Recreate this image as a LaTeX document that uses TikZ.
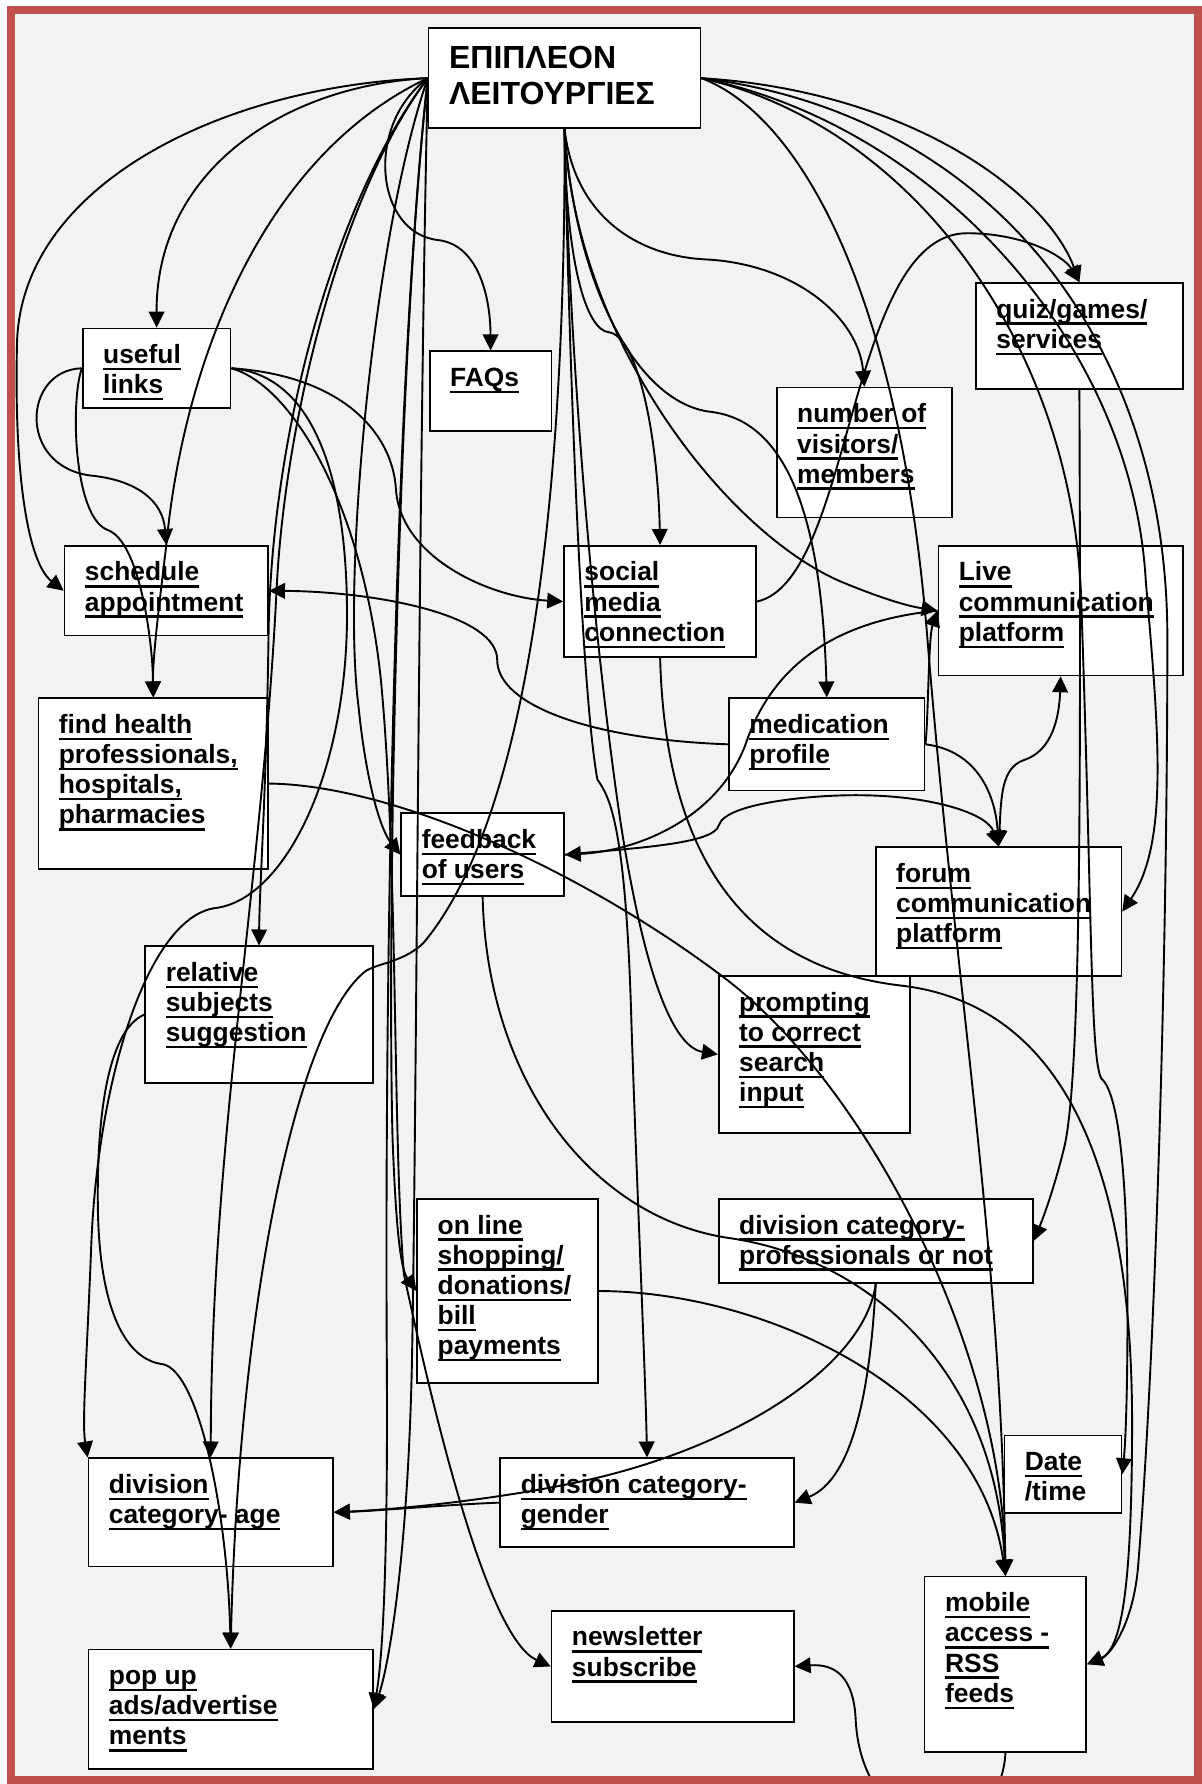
\documentclass[tikz,border=0pt]{standalone}
\usepackage{fontspec}
\setmainfont{Liberation Sans}
\usetikzlibrary{arrows.meta}
\definecolor{framered}{HTML}{C0504D}
\definecolor{pagegray}{HTML}{F2F2F2}
\newlength{\un}\setlength{\un}{0.02cm}
\newlength{\ixs}\setlength{\ixs}{0.36cm}
\newlength{\iys}\setlength{\iys}{7.6pt}
\newcommand{\uln}[1]{\leavevmode\setbox0\hbox{#1}\rlap{\rule[-3.3pt]{\wd0}{1.2pt}}\box0}
\newcommand{\boxtext}[3]{\parbox[t][\dimexpr#2\un-2\iys\relax][t]{\dimexpr#1\un-2\ixs\relax}{\raggedright\rule{0pt}{10pt}#3}}
\tikzset{
  cell/.style={draw, line width=0.8pt, fill=white, anchor=north west, inner xsep=\ixs, inner ysep=\iys,
    font=\fontsize{13.2}{15.1}\selectfont\bfseries},
  >={Triangle[length=8pt,width=7.8pt]}
}
\begin{document}
\begin{tikzpicture}[line width=0.95pt]
        \def\x{0.02}
        \def\y{-0.02}
        \fill[white] (0,0) rectangle (1056*\x, 1568*\y);
        \useasboundingbox (0,0) rectangle (1056*\x, 1568*\y);
        \fill[pagegray] (9.75*\x, 8.5*\y) rectangle (1053*\x, 1564.5*\y);
        \node[cell, font=\fontsize{16}{17.9}\selectfont\bfseries] (A0_0) at (376*\x, 24*\y) {\boxtext{239}{88}{\rule{0pt}{12.8pt}ΕΠΙΠΛΕΟΝ\\ΛΕΙΤΟΥΡΓΙΕΣ}};
        \node[cell] (A1_0) at (72*\x, 288*\y) {\boxtext{130}{70}{\uln{useful}\\\uln{links}}};
        \node[cell] (A1_1) at (377*\x, 308*\y) {\boxtext{107}{70}{\uln{FAQs}}};
        \node[cell] (A1_2) at (682*\x, 340*\y) {\boxtext{154}{114}{\uln{number of}\\\uln{visitors/}\\\uln{members}}};
        \node[cell] (A1_3) at (857*\x, 248*\y) {\boxtext{182}{93}{\uln{quiz/games/}\\\uln{services}}};
        \node[cell] (A2_0) at (56*\x, 479*\y) {\boxtext{179}{79}{\uln{schedule}\\\uln{appointment}}};
        \node[cell] (A2_1) at (495*\x, 479*\y) {\boxtext{169}{98}{\uln{social}\\\uln{media}\\\uln{connection}}};
        \node[cell] (A2_2) at (824*\x, 479*\y) {\boxtext{215}{114}{\uln{Live}\\\uln{communication}\\\uln{platform}}};
        \node[cell] (A3_0) at (33*\x, 613*\y) {\boxtext{202}{150}{\uln{find health}\\\uln{professionals,}\\\uln{hospitals,}\\\uln{pharmacies}}};
        \node[cell] (A3_1) at (640*\x, 613*\y) {\boxtext{172}{81}{\uln{medication}\\\uln{profile}}};
        \node[cell] (A4_0) at (352*\x, 714*\y) {\boxtext{143}{73}{\uln{feedback}\\\uln{of users}}};
        \node[cell] (A4_1) at (769*\x, 744*\y) {\boxtext{216}{113}{\uln{forum}\\\uln{communication}\\\uln{platform}}};
        \node[cell] (A5_0) at (127*\x, 831*\y) {\boxtext{200}{120}{\uln{relative}\\\uln{subjects}\\\uln{suggestion}}};
        \node[cell] (A5_1) at (631*\x, 857*\y) {\boxtext{168}{138}{\uln{prompting}\\\uln{to correct}\\\uln{search}\\\uln{input}}};
        \node[cell] (A6_0) at (366*\x, 1053*\y) {\boxtext{159}{162}{\uln{on line}\\\uln{shopping/}\\\uln{donations/}\\\uln{bill}\\\uln{payments}}};
        \node[cell] (A6_1) at (631*\x, 1053*\y) {\boxtext{276}{74}{\uln{division category-}\\\uln{professionals or not}}};
        \node[cell] (A7_0) at (77*\x, 1281*\y) {\boxtext{215}{95}{\uln{division}\\\uln{category- age}}};
        \node[cell] (A7_1) at (439*\x, 1281*\y) {\boxtext{258}{78}{\uln{division category-}\\\uln{gender}}};
        \node[cell] (A7_2) at (882*\x, 1261*\y) {\boxtext{103}{68}{\uln{Date}\\/time}};
        \node[cell] (A8_0) at (77*\x, 1449*\y) {\boxtext{250}{105}{\uln{pop up}\\\uln{ads/advertise}\\\uln{ments}}};
        \node[cell] (A8_1) at (484*\x, 1415*\y) {\boxtext{213}{98}{\uln{newsletter}\\\uln{subscribe}}};
        \node[cell] (A8_2) at (812*\x, 1385*\y) {\boxtext{142}{154}{\uln{mobile}\\\uln{access -}\\\uln{RSS}\\\uln{feeds}}};
        \draw[->] (A0_0.west) .. controls (200*\x, 75*\y) and (20*\x, 160*\y) .. (15*\x, 300*\y) .. controls (12*\x, 420*\y) and (25*\x, 495*\y) .. (A2_0.west);
        \draw[->] (A0_0.west) .. controls (250*\x, 75*\y) and (137*\x, 150*\y) .. (A1_0.north);
        \draw[->] (A0_0.west) .. controls (225*\x, 140*\y) and (160*\x, 330*\y) .. (A2_0.north) .. controls (140*\x, 530*\y) and (134*\x, 580*\y) .. (A3_0.north);
        \draw[->] (A0_0.west) .. controls (320*\x, 110*\y) and (330*\x, 205*\y) .. (385*\x, 211*\y) .. controls (420*\x, 215*\y) and (431*\x, 260*\y) .. (A1_1.north);
        \draw[->] (A0_0.west) .. controls (330*\x, 200*\y) and (300*\x, 500*\y) .. (315*\x, 620*\y) .. controls (322*\x, 690*\y) and (335*\x, 730*\y) .. (A4_0.west);
        \draw[->] (A0_0.west) .. controls (295*\x, 175*\y) and (238*\x, 380*\y) .. (236*\x, 560*\y) .. controls (234*\x, 700*\y) and (228*\x, 780*\y) .. (A5_0.north);
        \draw[->] (A0_0.west) .. controls (300*\x, 170*\y) and (250*\x, 370*\y) .. (243*\x, 520*\y) .. controls (230*\x, 780*\y) and (186*\x, 1000*\y) .. (A7_0.north);
        \draw[->] (A0_0.west) .. controls (350*\x, 300*\y) and (340*\x, 800*\y) .. (345*\x, 1000*\y) .. controls (348*\x, 1080*\y) and (352*\x, 1115*\y) .. (A6_0.west);
        \draw[->] (A0_0.west) .. controls (345*\x, 350*\y) and (338*\x, 900*\y) .. (340*\x, 1200*\y) .. controls (341*\x, 1380*\y) and (336*\x, 1460*\y) .. (A8_0.east);
        \draw[->] (A0_0.west) .. controls (368*\x, 400*\y) and (366*\x, 1000*\y) .. (362*\x, 1200*\y) .. controls (358*\x, 1380*\y) and (340*\x, 1470*\y) .. (A8_0.east);
        \draw[->] (A0_0.south) .. controls (497*\x, 230*\y) and (515*\x, 290*\y) .. (535*\x, 292*\y) .. controls (560*\x, 295*\y) and (578*\x, 380*\y) .. (A2_1.north);
        \draw[->] (A0_0.south) .. controls (505*\x, 190*\y) and (560*\x, 225*\y) .. (620*\x, 228*\y) .. controls (700*\x, 232*\y) and (755*\x, 280*\y) .. (A1_2.north);
        \draw[->] (A0_0.south) .. controls (505*\x, 250*\y) and (560*\x, 355*\y) .. (625*\x, 362*\y) .. controls (690*\x, 370*\y) and (722*\x, 450*\y) .. (A3_1.north);
        \draw[->] (A0_0.south) .. controls (505*\x, 300*\y) and (640*\x, 470*\y) .. (741*\x, 512*\y) .. controls (780*\x, 528*\y) and (800*\x, 533*\y) .. (A2_2.west);
        \draw[->] (A0_0.south) .. controls (497*\x, 350*\y) and (480*\x, 700*\y) .. (372*\x, 829*\y) .. controls (355*\x, 845*\y) and (335*\x, 846*\y) .. (322*\x, 853*\y) .. controls (260*\x, 900*\y) and (210*\x, 1150*\y) .. (A8_0.north);
        \draw[->] (A0_0.south) .. controls (500*\x, 300*\y) and (510*\x, 600*\y) .. (525*\x, 685*\y) .. controls (535*\x, 700*\y) and (550*\x, 720*\y) .. (555*\x, 900*\y) .. controls (560*\x, 1050*\y) and (567*\x, 1200*\y) .. (A7_1.north);
        \draw[->] (A0_0.south) .. controls (500*\x, 300*\y) and (520*\x, 550*\y) .. (545*\x, 720*\y) .. controls (565*\x, 850*\y) and (590*\x, 920*\y) .. (A5_1.west);
        \draw[->] (A0_0.east) .. controls (800*\x, 80*\y) and (920*\x, 170*\y) .. (A1_3.north);
        \draw[->] (A0_0.east) .. controls (700*\x, 100*\y) and (790*\x, 250*\y) .. (815*\x, 560*\y) .. controls (840*\x, 870*\y) and (880*\x, 1100*\y) .. (A8_2.north);
        \draw[->] (A0_0.east) .. controls (820*\x, 110*\y) and (995*\x, 300*\y) .. (1007*\x, 510*\y) .. controls (1018*\x, 640*\y) and (1028*\x, 740*\y) .. (A4_1.east);
        \draw[->] (A0_0.east) .. controls (870*\x, 100*\y) and (1026*\x, 300*\y) .. (1026*\x, 560*\y) .. controls (1026*\x, 850*\y) and (1015*\x, 1200*\y) .. (1000*\x, 1380*\y) .. controls (995*\x, 1430*\y) and (975*\x, 1455*\y) .. (A8_2.east);
        \draw[->] (A0_0.east) .. controls (800*\x, 110*\y) and (940*\x, 300*\y) .. (950*\x, 520*\y) .. controls (960*\x, 800*\y) and (958*\x, 930*\y) .. (968*\x, 948*\y) .. controls (985*\x, 962*\y) and (991*\x, 1050*\y) .. (991*\x, 1150*\y) .. controls (991*\x, 1230*\y) and (989*\x, 1270*\y) .. (A7_2.east);
        \draw[->] (A1_0.west) .. controls (20*\x, 325*\y) and (15*\x, 410*\y) .. (80*\x, 418*\y) .. controls (120*\x, 422*\y) and (143*\x, 440*\y) .. (A2_0.north);
        \draw[->] (A1_0.west) .. controls (62*\x, 350*\y) and (64*\x, 455*\y) .. (95*\x, 466*\y) .. controls (122*\x, 476*\y) and (134*\x, 560*\y) .. (A3_0.north);
        \draw[->] (A1_0.east) .. controls (300*\x, 330*\y) and (345*\x, 380*\y) .. (348*\x, 430*\y) .. controls (352*\x, 490*\y) and (430*\x, 525*\y) .. (A2_1.west);
        \draw[->] (A1_0.east) .. controls (280*\x, 330*\y) and (305*\x, 430*\y) .. (305*\x, 540*\y) .. controls (305*\x, 680*\y) and (250*\x, 790*\y) .. (190*\x, 798*\y) .. controls (130*\x, 805*\y) and (85*\x, 950*\y) .. (80*\x, 1100*\y) .. controls (76*\x, 1200*\y) and (72*\x, 1250*\y) .. (A7_0.north west);
        \draw[->] (A1_0.east) .. controls (260*\x, 340*\y) and (320*\x, 450*\y) .. (335*\x, 600*\y) .. controls (350*\x, 760*\y) and (345*\x, 1000*\y) .. (355*\x, 1120*\y) .. controls (385*\x, 1260*\y) and (430*\x, 1440*\y) .. (A8_1.west);
        \draw[->] (A3_1.west) .. controls (520*\x, 650*\y) and (437*\x, 620*\y) .. (437*\x, 580*\y) .. controls (437*\x, 540*\y) and (330*\x, 520*\y) .. (A2_0.east);
        \draw[->] (A2_1.east) .. controls (750*\x, 510*\y) and (745*\x, 205*\y) .. (850*\x, 205*\y) .. controls (900*\x, 205*\y) and (935*\x, 225*\y) .. (A1_3.north);
        \draw[->] (A3_1.east) .. controls (860*\x, 660*\y) and (875*\x, 700*\y) .. (A4_1.north);
        \draw[->] (A3_1.east) .. controls (816*\x, 630*\y) and (816*\x, 560*\y) .. (A2_2.west);
        \draw[<->] (A4_1.north) .. controls (880*\x, 700*\y) and (880*\x, 675*\y) .. (900*\x, 668*\y) .. controls (925*\x, 660*\y) and (931*\x, 630*\y) .. (A2_2.south);
        \draw[->] (A2_2.west) .. controls (740*\x, 545*\y) and (680*\x, 580*\y) .. (655*\x, 655*\y) .. controls (630*\x, 720*\y) and (560*\x, 748*\y) .. (A4_0.east);
        \draw[->] (A4_0.east) .. controls (560*\x, 745*\y) and (628*\x, 742*\y) .. (632*\x, 725*\y) .. controls (638*\x, 705*\y) and (720*\x, 698*\y) .. (760*\x, 699*\y) .. controls (820*\x, 700*\y) and (868*\x, 715*\y) .. (A4_1.north);
        \draw[->] (A4_0.south) .. controls (428*\x, 950*\y) and (520*\x, 1070*\y) .. (640*\x, 1088*\y) .. controls (760*\x, 1105*\y) and (875*\x, 1200*\y) .. (A8_2.north);
        \draw[->] (A3_0.east) .. controls (350*\x, 690*\y) and (520*\x, 770*\y) .. (640*\x, 862*\y) .. controls (760*\x, 955*\y) and (880*\x, 1180*\y) .. (A8_2.north);
        \draw[->] (A6_0.east) .. controls (670*\x, 1135*\y) and (860*\x, 1220*\y) .. (A8_2.north);
        \draw[->] (A2_1.south) .. controls (585*\x, 760*\y) and (660*\x, 850*\y) .. (790*\x, 866*\y) .. controls (920*\x, 880*\y) and (995*\x, 1000*\y) .. (995*\x, 1250*\y) .. controls (995*\x, 1400*\y) and (985*\x, 1450*\y) .. (A8_2.east);
        \draw[->] (A1_3.south) .. controls (950*\x, 700*\y) and (950*\x, 950*\y) .. (935*\x, 1010*\y) .. controls (925*\x, 1050*\y) and (915*\x, 1075*\y) .. (A6_1.east);
        \draw[->] (A6_1.south) .. controls (765*\x, 1220*\y) and (750*\x, 1300*\y) .. (A7_1.east);
        \draw[->] (A6_1.south) .. controls (760*\x, 1200*\y) and (650*\x, 1270*\y) .. (520*\x, 1300*\y) .. controls (450*\x, 1316*\y) and (360*\x, 1326*\y) .. (A7_0.east);
        \draw[->] (A7_1.west) .. controls (400*\x, 1322*\y) and (330*\x, 1328*\y) .. (A7_0.east);
        \draw[->] (A5_0.west) .. controls (95*\x, 905*\y) and (85*\x, 980*\y) .. (86*\x, 1060*\y) .. controls (87*\x, 1150*\y) and (110*\x, 1195*\y) .. (143*\x, 1199*\y) .. controls (175*\x, 1205*\y) and (200*\x, 1330*\y) .. (A8_0.north);
        \draw[->] (A8_2.south) .. controls (882*\x, 1575*\y) and (862*\x, 1600*\y) .. (822*\x, 1600*\y) .. controls (780*\x, 1600*\y) and (754*\x, 1560*\y) .. (752*\x, 1510*\y) .. controls (750*\x, 1475*\y) and (735*\x, 1462*\y) .. (A8_1.east);
        \draw[framered, line width=0.14cm] (9.75*\x, 8.5*\y) rectangle (1053*\x, 1564.5*\y);
      \end{tikzpicture}
\end{document}
